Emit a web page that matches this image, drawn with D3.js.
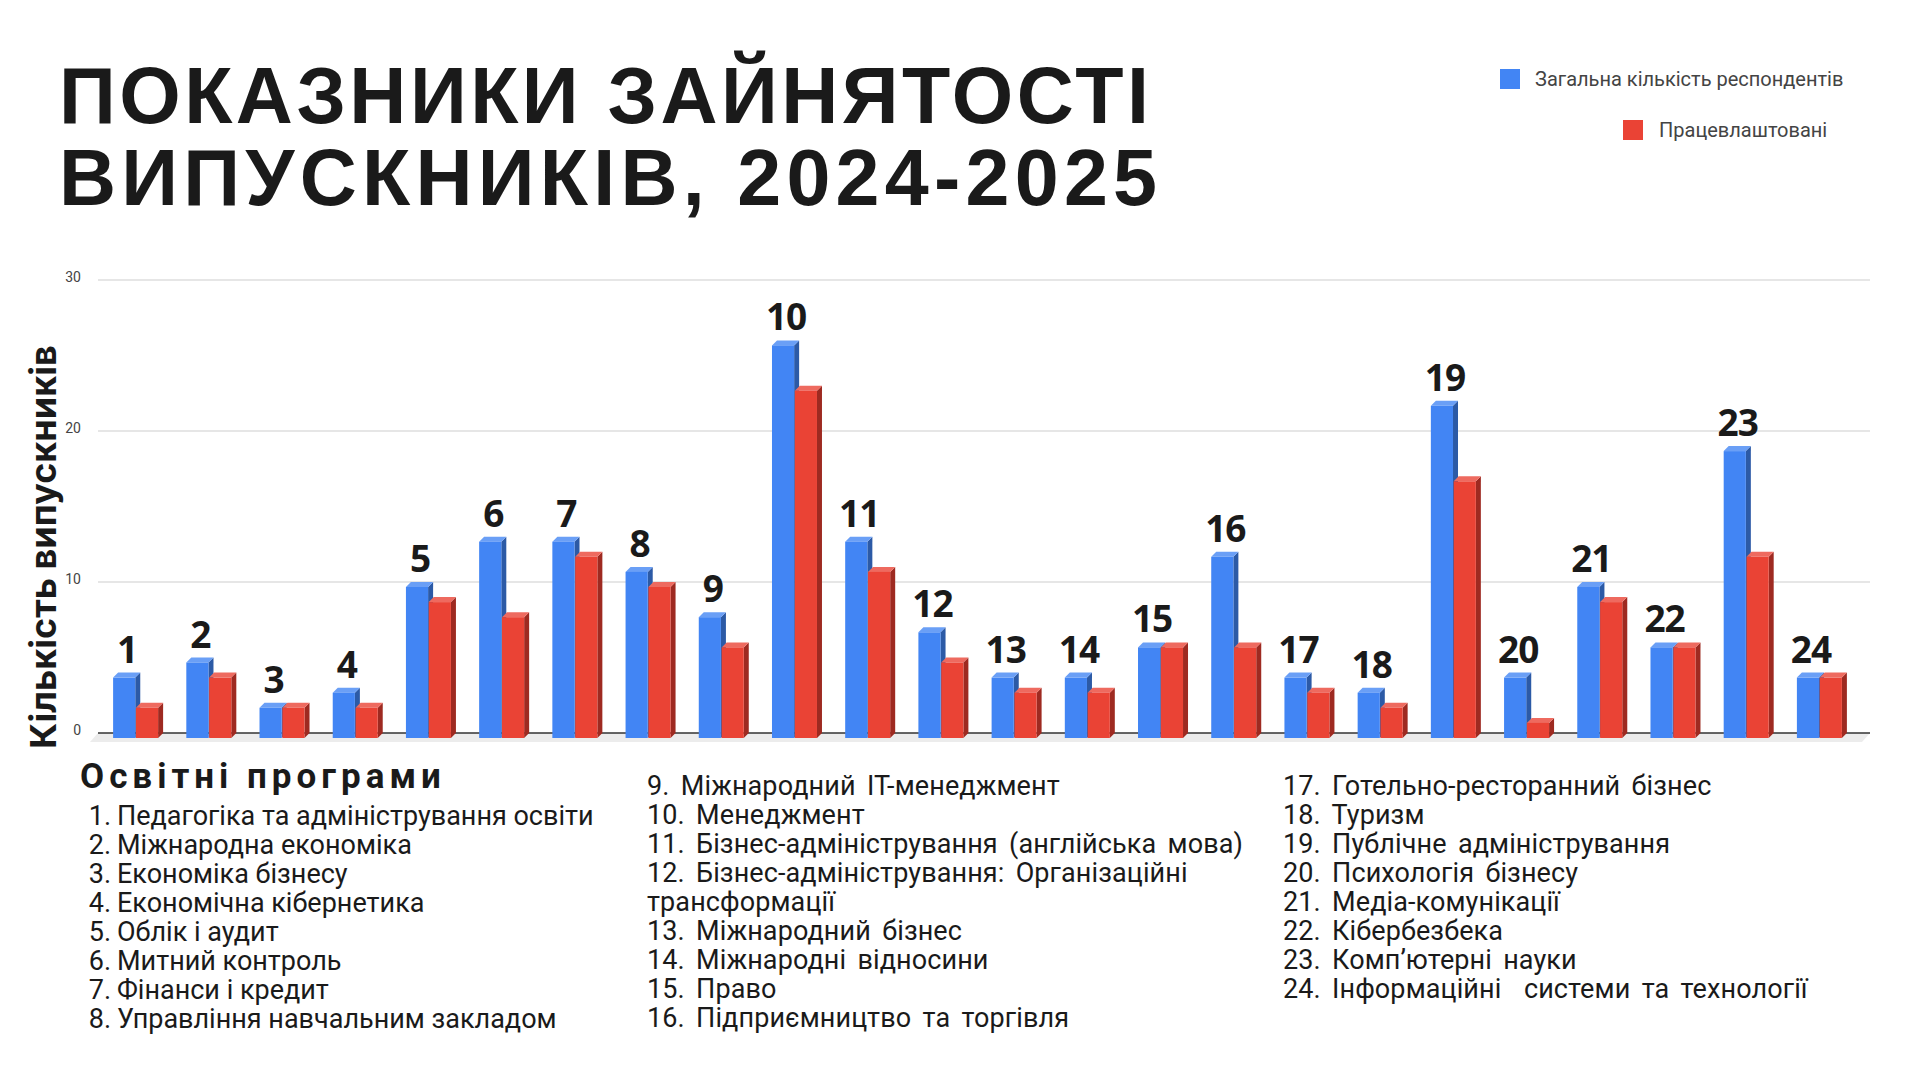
<!DOCTYPE html>
<html>
<head>
<meta charset="utf-8">
<script src="https://cdn.jsdelivr.net/npm/d3@7"></script>
<style>
  html, body { margin: 0; padding: 0; background: #ffffff; }
  svg { display: block; }
</style>
</head>
<body>
<svg id="chart" width="1920" height="1080"></svg>
<script>
// ---------- DATA ----------
const categories = ["1","2","3","4","5","6","7","8","9","10","11","12","13","14","15","16","17","18","19","20","21","22","23","24"];
const totalRespondents = [4,5,2,3,10,13,13,11,8,26,13,7,4,4,6,12,4,3,22,4,10,6,19,4];
const employed         = [2,4,2,2,9,8,12,10,6,23,11,5,3,3,6,6,3,2,17,1,9,6,12,4];
const seriesNames = ["Загальна кількість респондентів", "Працевлаштовані"];
const yTicks = [0, 10, 20, 30];
const titleLines = ["ПОКАЗНИКИ ЗАЙНЯТОСТІ", "ВИПУСКНИКІВ, 2024-2025"];
const yAxisTitle = "Кількість випускників";
const listHeading = "Освітні програми";
const programsCol1 = [
  "Педагогіка та адміністрування освіти",
  "Міжнародна економіка",
  "Економіка бізнесу",
  "Економічна кібернетика",
  "Облік і аудит",
  "Митний контроль",
  "Фінанси і кредит",
  "Управління навчальним закладом"
];
const programsCol2 = [
  "9. Міжнародний IT-менеджмент",
  "10. Менеджмент",
  "11. Бізнес-адміністрування (англійська мова)",
  "12. Бізнес-адміністрування: Організаційні",
  "трансформації",
  "13. Міжнародний бізнес",
  "14. Міжнародні відносини",
  "15. Право",
  "16. Підприємництво та торгівля"
];
const programsCol3 = [
  "17. Готельно-ресторанний бізнес",
  "18. Туризм",
  "19. Публічне адміністрування",
  "20. Психологія бізнесу",
  "21. Медіа-комунікації",
  "22. Кібербезбека",
  "23. Комп’ютерні науки",
  "24. Інформаційні  системи та технології"
];

// ---------- LAYOUT ----------
const svg = d3.select("#chart");
const plotLeft = 99, plotRight = 1856, gridRight = 1870;
const y0px = 733, y30px = 280;
const depth = 5;

const x = d3.scaleBand().domain(categories).range([plotLeft, plotRight]).paddingInner(0).paddingOuter(0);
const groupW = 45;
const xs = d3.scaleBand().domain(["total", "employed"]).range([0, groupW]).paddingInner(0.03);
const y = d3.scaleLinear().domain([0, 30]).range([y0px, y30px]);

const colors = {
  total:    { front: "#4285f4", top: "#6a9ff6", side: "#2c5aa6" },
  employed: { front: "#ea4335", top: "#ee6a5f", side: "#9e2a21" }
};

// Title
const titleWidths = [1090, 1098];
const title = svg.append("g").attr("font-family", "'Liberation Sans', Arial, sans-serif")
  .attr("font-weight", 700).attr("fill", "#1a1a1a").attr("font-size", 79);
title.selectAll("text").data(titleLines).join("text")
  .attr("x", 59).attr("y", (d, i) => 123 + i * 82)
  .attr("textLength", (d, i) => titleWidths[i]).attr("lengthAdjust", "spacing")
  .text(d => d);

// Legend
const legend = svg.append("g").attr("font-family", "Roboto, sans-serif").attr("font-size", 20).attr("fill", "#444");
legend.append("rect").attr("x", 1500).attr("y", 69).attr("width", 20).attr("height", 20).attr("fill", colors.total.front);
legend.append("text").attr("x", 1535).attr("y", 86).text(seriesNames[0]);
legend.append("rect").attr("x", 1623).attr("y", 120).attr("width", 20).attr("height", 20).attr("fill", colors.employed.front);
legend.append("text").attr("x", 1659).attr("y", 137).text(seriesNames[1]);

// Gridlines
const grid = svg.append("g");
grid.selectAll("line").data(yTicks.filter(t => t > 0)).join("line")
  .attr("x1", plotLeft - 1).attr("x2", gridRight)
  .attr("y1", d => y(d)).attr("y2", d => y(d))
  .attr("stroke", "#dedede").attr("stroke-width", 1.5);

// Floor
svg.append("polygon")
  .attr("points", [[plotLeft - 1, y0px], [gridRight, y0px], [gridRight - 8, y0px + 9], [plotLeft - 9, y0px + 9]].map(p => p.join(",")).join(" "))
  .attr("fill", "#ececec");
svg.append("line").attr("x1", plotLeft - 1).attr("x2", gridRight).attr("y1", y0px).attr("y2", y0px)
  .attr("stroke", "#333").attr("stroke-width", 1.5);

// Y axis tick labels
const yAxis = d3.axisLeft(y).tickValues(yTicks).tickSize(0).tickPadding(0);
const yAxisG = svg.append("g").attr("transform", `translate(${plotLeft - 18},0)`).call(yAxis);
yAxisG.select(".domain").remove();
yAxisG.selectAll("text").attr("font-family", "Roboto, sans-serif").attr("font-size", 14)
  .attr("fill", "#444").attr("dy", "0.1em");

// Y axis title
svg.append("text")
  .attr("transform", `translate(56,547) rotate(-90)`)
  .attr("text-anchor", "middle")
  .attr("font-family", "Inter, 'Noto Sans', sans-serif").attr("font-weight", 700)
  .attr("font-size", 36).attr("fill", "#1a1a1a")
  .text(yAxisTitle);

// Bars
const rows = categories.map((c, i) => ({ cat: c, total: totalRespondents[i], employed: employed[i] }));
const barsG = svg.append("g");
rows.forEach(r => {
  ["total", "employed"].forEach(key => {
    const v = r[key];
    const bx = x(r.cat) + (x.bandwidth() - groupW) / 2 + xs(key);
    const w = xs.bandwidth();
    const yt = y(v), yb = y(0);
    const g = barsG.append("g");
    g.append("polygon").attr("points",
      [[bx + w, yt + depth], [bx + w + depth, yt], [bx + w + depth, yb], [bx + w, yb + depth]].map(p => p.join(",")).join(" "))
      .attr("fill", colors[key].side);
    g.append("polygon").attr("points",
      [[bx, yt + depth], [bx + depth, yt], [bx + w + depth, yt], [bx + w, yt + depth]].map(p => p.join(",")).join(" "))
      .attr("fill", colors[key].top);
    g.append("rect").attr("x", bx).attr("y", yt + depth).attr("width", w).attr("height", yb - yt)
      .attr("fill", colors[key].front);
  });
});

// Category number labels
svg.append("g").selectAll("text").data(rows).join("text")
  .attr("x", d => x(d.cat) + (x.bandwidth() - groupW) / 2 + xs("total") + xs.bandwidth() / 2 + 3)
  .attr("y", d => y(Math.max(d.total, d.employed)) - 10)
  .attr("text-anchor", "middle")
  .attr("font-family", "'Open Sans', sans-serif").attr("font-weight", 700)
  .attr("font-size", 37).attr("fill", "#1a1a1a").attr("letter-spacing", -1)
  .text(d => d.cat);

// Programs list
svg.append("text").attr("x", 80).attr("y", 788)
  .attr("font-family", "Roboto, sans-serif").attr("font-weight", 700).attr("font-size", 35)
  .attr("letter-spacing", 5).attr("fill", "#1a1a1a").text(listHeading);

const lineStep = 29;
const col1 = svg.append("g").attr("font-family", "Roboto, sans-serif").attr("font-size", 27).attr("fill", "#1a1a1a");
col1.selectAll("text.num").data(programsCol1).join("text").attr("class", "num")
  .attr("x", 111).attr("y", (d, i) => 825 + i * lineStep).attr("text-anchor", "end").text((d, i) => (i + 1) + ".");
col1.selectAll("text.lbl").data(programsCol1).join("text").attr("class", "lbl")
  .attr("x", 117).attr("y", (d, i) => 825 + i * lineStep).text(d => d);

const col2 = svg.append("g").attr("font-family", "Roboto, sans-serif").attr("font-size", 27)
  .attr("word-spacing", 4.5).attr("letter-spacing", 0.1).attr("fill", "#1a1a1a");
col2.selectAll("text").data(programsCol2).join("text")
  .attr("x", 647).attr("y", (d, i) => 795 + i * lineStep).style("white-space", "pre").text(d => d);

const col3 = svg.append("g").attr("font-family", "Roboto, sans-serif").attr("font-size", 27)
  .attr("word-spacing", 4.5).attr("letter-spacing", 0.1).attr("fill", "#1a1a1a");
col3.selectAll("text").data(programsCol3).join("text")
  .attr("x", 1283).attr("y", (d, i) => 795 + i * lineStep).style("white-space", "pre").text(d => d);
</script>
</body>
</html>
